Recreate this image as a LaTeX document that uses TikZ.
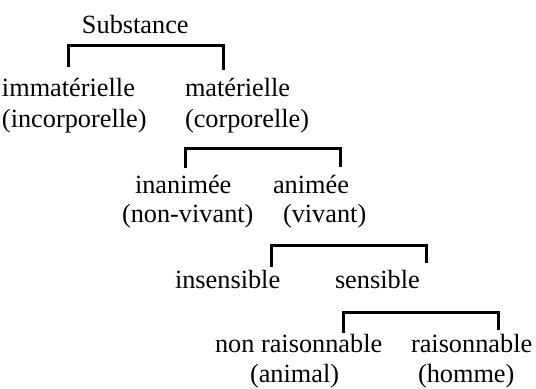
\documentclass[tikz,border=0pt]{standalone}
\usepackage{fontspec}
\setmainfont{Liberation Serif}
\begin{document}
\begin{tikzpicture}[x=0.5pt,y=-0.5pt,
  lbl/.style={anchor=base west,inner sep=0pt,outer sep=0pt,font=\fontsize{13.15}{15}\selectfont},
  bracket/.style={line width=1.5pt,line join=miter}]
\useasboundingbox (0,0) rectangle (536,388);
% texts
\node[lbl] (sub) at (82,33) {Substance};
\node[lbl] (imm) at (2,96) {immatérielle};
\node[lbl] (imm2) at (2,127) {(incorporelle)};
\node[lbl] (mat) at (185,96) {matérielle};
\node[lbl] (mat2) at (185,127) {(corporelle)};
\node[lbl] (inan) at (135,193) {inanimée};
\node[lbl] (inan2) at (122,222) {(non-vivant)};
\node[lbl] (anim) at (273,193) {animée};
\node[lbl] (anim2) at (283,222) {(vivant)};
\node[lbl] (insens) at (175,288) {insensible};
\node[lbl] (sens) at (335,288) {sensible};
\node[lbl] (nonr) at (215,352) {non raisonnable};
\node[lbl] (nonr2) at (250,382) {(animal)};
\node[lbl] (rais) at (411,352) {raisonnable};
\node[lbl] (rais2) at (418,382) {(homme)};
% bracket end points
\coordinate (b1l) at (68,67);  \coordinate (b1r) at (223,70);  \coordinate (b1t) at (145,45);
\coordinate (b2l) at (185,168); \coordinate (b2r) at (340,167); \coordinate (b2t) at (262,148);
\coordinate (b3l) at (271,267); \coordinate (b3r) at (426,263); \coordinate (b3t) at (348,245);
\coordinate (b4l) at (343,333); \coordinate (b4r) at (498,330); \coordinate (b4t) at (420,312);
\draw[bracket] (b1l) |- (b1t) -| (b1r);
\draw[bracket] (b2l) |- (b2t) -| (b2r);
\draw[bracket] (b3l) |- (b3t) -| (b3r);
\draw[bracket] (b4l) |- (b4t) -| (b4r);
\end{tikzpicture}
\end{document}
